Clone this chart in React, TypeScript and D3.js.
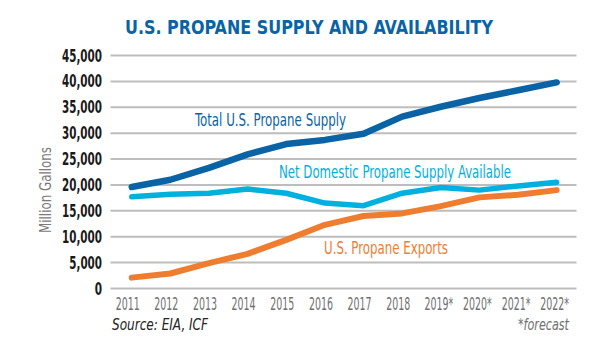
import React, {useEffect, useRef} from 'react';
import * as d3 from 'd3';

const years = ['2011', '2012', '2013', '2014', '2015', '2016', '2017', '2018', '2019*', '2020*', '2021*', '2022*'];
const totalSupply = [19600, 21000, 23300, 25900, 27900, 28700, 29900, 33200, 35100, 36800, 38300, 39800];
const netDomestic = [17700, 18200, 18400, 19200, 18400, 16500, 16000, 18400, 19500, 19000, 19800, 20500];
const exportsData = [2100, 2900, 4900, 6700, 9400, 12300, 14000, 14500, 15900, 17600, 18100, 19000];
const yTicks = [0, 5000, 10000, 15000, 20000, 25000, 30000, 35000, 40000, 45000];

const width = 600;
const height = 354;
const condensed = '"DejaVu Sans Condensed", "Liberation Sans Narrow", "Roboto", sans-serif';

// rough width of a condensed label so it can be squeezed with textLength
const textWidth = (s: string, digit: number, other: number) =>
    s.split('').reduce((acc, c) => acc + (/[0-9]/.test(c) ? digit : other), 0);

const App: React.FC = () => {
    const svgRef = useRef<SVGSVGElement | null>(null);

    useEffect(() => {
        const svg = d3.select(svgRef.current);
        svg.selectAll('*').remove();

        const xScale = d3.scalePoint<string>()
            .domain(years)
            .range([131.7, 556.7]);

        const yScale = d3.scaleLinear()
            .domain([0, 45000])
            .range([288.5, 55.5]);

        // title
        svg.append('text')
            .attr('x', 125)
            .attr('y', 34)
            .attr('textLength', 368)
            .attr('lengthAdjust', 'spacingAndGlyphs')
            .attr('font-family', condensed)
            .attr('font-weight', 'bold')
            .attr('font-size', 20)
            .attr('fill', '#0a63a5')
            .text('U.S. PROPANE SUPPLY AND AVAILABILITY');

        // grid lines
        svg.append('g')
            .selectAll('line')
            .data(yTicks)
            .enter()
            .append('line')
            .attr('x1', 110.5)
            .attr('x2', 576.5)
            .attr('y1', d => yScale(d))
            .attr('y2', d => yScale(d))
            .attr('stroke', '#bdbdbd')
            .attr('stroke-width', 2);

        // y tick labels
        svg.append('g')
            .selectAll('text')
            .data(yTicks)
            .enter()
            .append('text')
            .attr('x', 102)
            .attr('y', d => yScale(d) + 6)
            .attr('text-anchor', 'end')
            .attr('textLength', d => textWidth(d3.format(',')(d), 7.3, 3.5))
            .attr('lengthAdjust', 'spacingAndGlyphs')
            .attr('font-family', condensed)
            .attr('font-weight', 'bold')
            .attr('font-size', 17)
            .attr('fill', '#1a1a1a')
            .text(d => d3.format(',')(d));

        // y axis title
        svg.append('text')
            .attr('transform', 'translate(51, 190) rotate(-90)')
            .attr('text-anchor', 'middle')
            .attr('textLength', 86)
            .attr('lengthAdjust', 'spacingAndGlyphs')
            .attr('font-family', condensed)
            .attr('font-size', 16)
            .attr('fill', '#7a7a7a')
            .text('Million Gallons');

        // x labels, squeezed horizontally
        svg.append('g')
            .selectAll('text')
            .data(years)
            .enter()
            .append('text')
            .attr('transform', d => `translate(${xScale(d)! - 4 + (d.endsWith('*') ? 2 : 0)}, 310) scale(0.6, 1)`)
            .attr('text-anchor', 'middle')
            .attr('font-family', condensed)
            .attr('font-size', 17.5)
            .attr('fill', '#707070')
            .text(d => d);

        // lines
        const line = d3.line<number>()
            .x((_, i) => xScale(years[i])!)
            .y(d => yScale(d));

        const series = [
            {values: exportsData, color: '#ef7d30', w: 6},
            {values: netDomestic, color: '#00b0de', w: 5.5},
            {values: totalSupply, color: '#0a63a5', w: 6.5},
        ];

        svg.append('g')
            .selectAll('path')
            .data(series)
            .enter()
            .append('path')
            .attr('d', d => line(d.values))
            .attr('fill', 'none')
            .attr('stroke', d => d.color)
            .attr('stroke-width', d => d.w)
            .attr('stroke-linecap', 'round')
            .attr('stroke-linejoin', 'round');

        // series labels
        const labels = [
            {text: 'Total U.S. Propane Supply', x: 195, y: 126, len: 151, color: '#0a63a5'},
            {text: 'Net Domestic Propane Supply Available', x: 279, y: 178, len: 232, color: '#00b0de'},
            {text: 'U.S. Propane Exports', x: 324, y: 254, len: 124, color: '#ef7d30'},
        ];
        svg.append('g')
            .selectAll('text')
            .data(labels)
            .enter()
            .append('text')
            .attr('x', d => d.x)
            .attr('y', d => d.y)
            .attr('textLength', d => d.len)
            .attr('lengthAdjust', 'spacingAndGlyphs')
            .attr('font-family', condensed)
            .attr('font-size', 18)
            .attr('fill', d => d.color)
            .text(d => d.text);

        // footer
        svg.append('text')
            .attr('x', 112)
            .attr('y', 330)
            .attr('textLength', 96)
            .attr('lengthAdjust', 'spacingAndGlyphs')
            .attr('font-family', condensed)
            .attr('font-style', 'italic')
            .attr('font-size', 16)
            .attr('fill', '#222')
            .text('Source: EIA, ICF');

        svg.append('text')
            .attr('x', 518)
            .attr('y', 330)
            .attr('textLength', 51)
            .attr('lengthAdjust', 'spacingAndGlyphs')
            .attr('font-family', condensed)
            .attr('font-style', 'italic')
            .attr('font-size', 16)
            .attr('fill', '#707070')
            .text('*forecast');
    }, []);

    return (
        <svg
            ref={svgRef}
            width={width}
            height={height}
            style={{position: 'absolute', left: 0, top: 0, background: '#fff'}}
        />
    );
};

export default App;
